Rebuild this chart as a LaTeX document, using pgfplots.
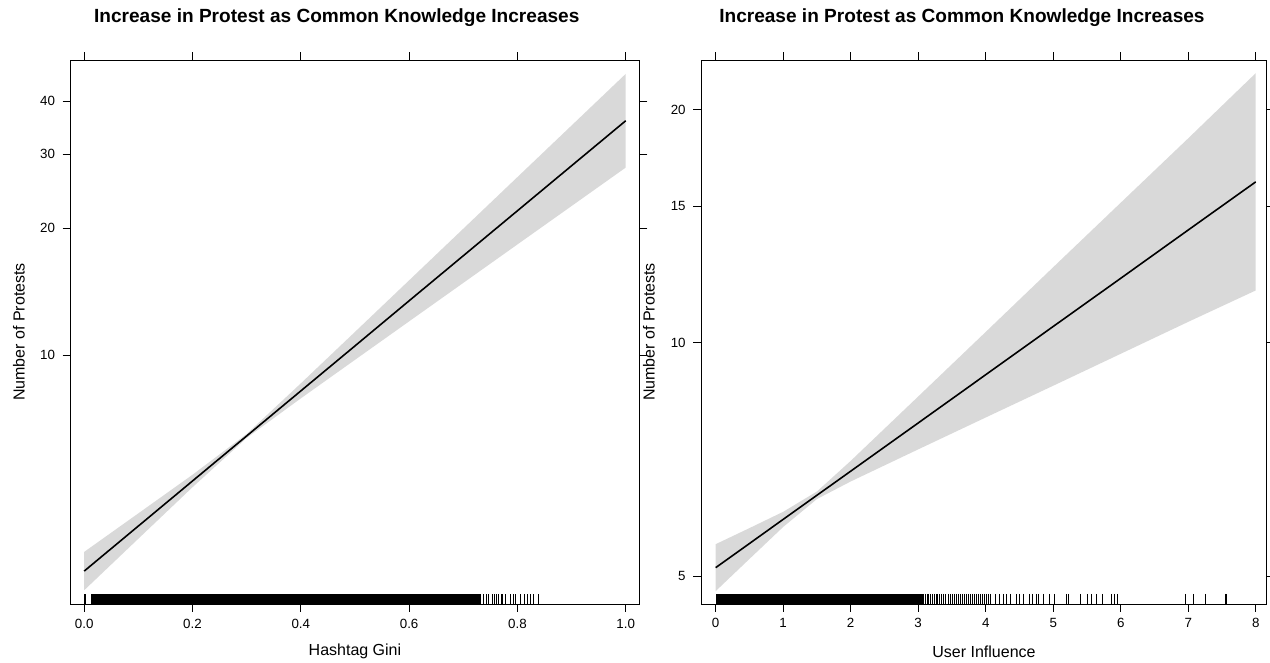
\documentclass[border=0pt]{standalone}
\usepackage{pgfplots}
\pgfplotsset{compat=1.18}
\usepackage{fontspec}
\setmainfont{Liberation Sans}
\definecolor{bandgray}{RGB}{217,217,217}
\begin{document}
\begin{tikzpicture}
\path[use as bounding box] (0pt,0pt) rectangle (952.5pt,496.5pt);
% ---------------- left panel ----------------
\begin{axis}[
  ymode=log,
  scale only axis, anchor=south west,
  at={(53.0pt,43.5pt)}, width=426.45pt, height=408pt,
  axis line style={line width=0.6pt},
  every tick/.style={black, line width=0.6pt},
  major tick length=6pt, tick align=outside, tick pos=both,
  yminorticks=false, xminorticks=false,
  /pgf/number format/assume math mode=true,
  tick label style={font=\fontsize{10}{12}\selectfont},
  xticklabel style={yshift=-1.5pt},
  yticklabel style={xshift=-2.25pt},
  label style={font=\fontsize{12}{14}\selectfont},
  title style={font=\bfseries\fontsize{14.3}{17}\selectfont, anchor=center, yshift=25.5pt, at={(0.468,1)}},
  xlabel style={at={(0.5,0)}, anchor=center, yshift=-35.5pt},
  ylabel style={at={(-0.0909,0.5)}, anchor=center},
  xmin=-0.025, xmax=1.025, ymin=2.576, ymax=50.1,
  xtick={0,0.2,0.4,0.6,0.8,1.0},
  xticklabels={0.0,0.2,0.4,0.6,0.8,1.0},
  ytick={10,20,30,40}, yticklabels={10,20,30,40},
  title={Increase in Protest as Common Knowledge Increases},
  xlabel={Hashtag Gini},
  ylabel={Number of Protests},
]
\addplot[fill=bandgray, draw=none] coordinates {
 (0,3.423)(0.1,4.224)(0.2,5.214)(0.3,6.513)(0.4,8.583)(0.5,11.366)(0.6,15.06)(0.7,19.96)(0.8,26.45)(0.9,35.05)(1.0,46.45)
 (1.0,27.86)(0.9,22.59)(0.8,18.32)(0.7,14.85)(0.6,12.04)(0.5,9.759)(0.4,7.910)(0.3,6.374)(0.2,4.871)(0.1,3.679)(0,2.777)};
\addplot[black, line width=1.2pt] coordinates {
 (0,3.083)(0.1,3.942)(0.2,5.040)(0.3,6.443)(0.4,8.238)(0.5,10.53)(0.6,13.47)(0.7,17.22)(0.8,22.01)(0.9,28.14)(1.0,35.97)};
% rug: dense part
\addplot[fill=black, draw=none] coordinates {(0.012,2.576)(0.733,2.576)(0.733,2.72)(0.012,2.72)};
% rug: individual ticks
\addplot[only marks, mark=|, mark size=3.75pt, mark options={line width=0.6pt, black}] coordinates {
 (0,2.646)(0.001,2.646)(0.002,2.646)(0.737,2.646)(0.743,2.646)(0.747,2.646)(0.753,2.646)(0.757,2.646)(0.761,2.646)
 (0.765,2.646)(0.770,2.646)(0.773,2.646)(0.778,2.646)(0.787,2.646)(0.793,2.646)(0.796,2.646)
 (0.806,2.646)(0.812,2.646)(0.819,2.646)(0.824,2.646)(0.829,2.646)(0.839,2.646)};
\end{axis}
% ---------------- right panel ----------------
\begin{axis}[
  ymode=log,
  scale only axis, anchor=south west,
  at={(525.98pt,43.5pt)}, width=424.05pt, height=408pt,
  axis line style={line width=0.6pt},
  every tick/.style={black, line width=0.6pt},
  major tick length=6pt, tick align=outside, tick pos=both,
  yminorticks=false, xminorticks=false,
  /pgf/number format/assume math mode=true,
  tick label style={font=\fontsize{10}{12}\selectfont},
  xticklabel style={yshift=-1.5pt},
  yticklabel style={xshift=-2.25pt},
  label style={font=\fontsize{12}{14}\selectfont},
  title style={font=\bfseries\fontsize{14.3}{17}\selectfont, anchor=center, yshift=25.5pt, at={(0.461,1)}},
  xlabel style={at={(0.5,0)}, anchor=center, yshift=-35.5pt},
  ylabel style={at={(-0.0925,0.5)}, anchor=center},
  xmin=-0.213, xmax=8.163, ymin=4.60, ymax=23.17,
  xtick={0,1,2,3,4,5,6,7,8},
  ytick={5,10,15,20}, yticklabels={5,10,15,20},
  title={Increase in Protest as Common Knowledge Increases},
  xlabel={User Influence},
  ylabel={Number of Protests},
]
\addplot[fill=bandgray, draw=none] coordinates {
 (0,5.495)(0.5,5.764)(1,6.050)(1.5,6.427)(2,7.039)(3,8.523)(4,10.325)(5,12.516)(6,15.16)(7,18.36)(8,22.28)
 (8,11.68)(7,10.64)(6,9.676)(5,8.800)(4,8.007)(3,7.284)(2,6.621)(1.5,6.284)(1,5.784)(0.5,5.259)(0,4.780)};
\addplot[black, line width=1.2pt] coordinates {
 (0,5.125)(0.5,5.506)(1,5.916)(1.5,6.355)(2,6.827)(3,7.879)(4,9.093)(5,10.495)(6,12.11)(7,13.98)(8,16.13)};
% rug: dense part
\addplot[fill=black, draw=none] coordinates {(0,4.60)(3.08,4.60)(3.08,4.74)(0,4.74)};
% rug: individual ticks
\addplot[only marks, mark=|, mark size=3.75pt, mark options={line width=0.6pt, black}] coordinates {
 (3.10,4.67)(3.13,4.67)(3.15,4.67)(3.18,4.67)(3.21,4.67)(3.24,4.67)(3.27,4.67)(3.29,4.67)(3.32,4.67)(3.35,4.67)
 (3.38,4.67)(3.41,4.67)(3.44,4.67)(3.47,4.67)(3.50,4.67)(3.53,4.67)(3.56,4.67)(3.59,4.67)(3.62,4.67)(3.65,4.67)
 (3.68,4.67)(3.71,4.67)(3.74,4.67)(3.77,4.67)(3.80,4.67)(3.83,4.67)(3.86,4.67)(3.89,4.67)(3.92,4.67)(3.95,4.67)
 (3.98,4.67)(4.01,4.67)(4.04,4.67)(4.07,4.67)
 (4.15,4.67)(4.20,4.67)(4.26,4.67)(4.31,4.67)(4.37,4.67)(4.45,4.67)(4.50,4.67)(4.56,4.67)(4.64,4.67)(4.69,4.67)
 (4.75,4.67)(4.78,4.67)(4.86,4.67)(4.94,4.67)(5.02,4.67)(5.19,4.67)(5.23,4.67)(5.40,4.67)(5.51,4.67)(5.57,4.67)
 (5.64,4.67)(5.73,4.67)(5.86,4.67)(5.90,4.67)(5.95,4.67)(6.96,4.67)(7.07,4.67)(7.26,4.67)(7.55,4.67)(7.57,4.67)};
\end{axis}
\end{tikzpicture}
\end{document}
